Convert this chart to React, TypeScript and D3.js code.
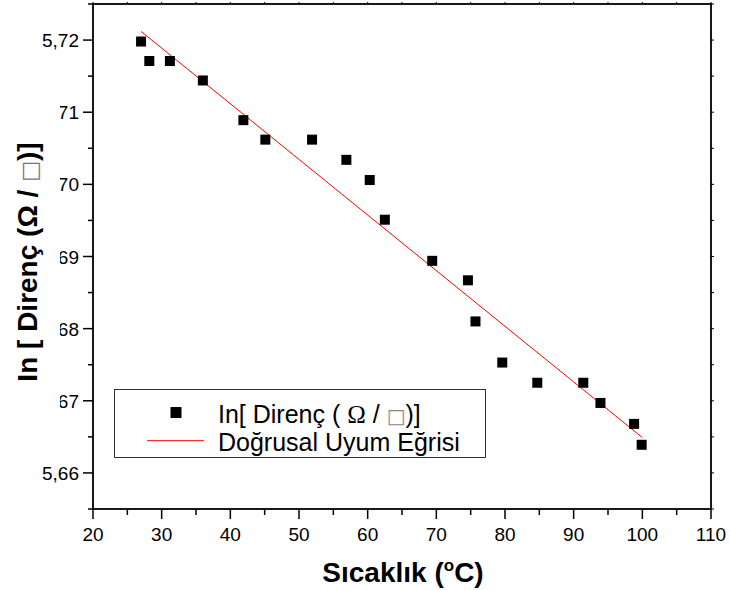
import React from "react";
import * as d3 from "d3";

// ---- data ----
const tempC = [27.0, 28.2, 31.2, 36.0, 41.9, 45.1, 51.9, 56.9, 60.3, 62.5, 69.4, 74.6, 75.7, 79.6, 84.7, 91.4, 93.9, 98.8, 99.9];
const lnR = [5.7198, 5.7171, 5.7171, 5.7144, 5.7089, 5.7062, 5.7062, 5.7034, 5.7006, 5.6951, 5.6894, 5.6867, 5.6810, 5.6753, 5.6725, 5.6725, 5.6697, 5.6668, 5.6639];
const fitX = [27.0, 100.0];
const fitY = [5.7212, 5.6649];

const xTickValues = [20, 30, 40, 50, 60, 70, 80, 90, 100, 110];
const xTickLabels = ["20", "30", "40", "50", "60", "70", "80", "90", "100", "110"];
const yTickValues = [5.66, 5.67, 5.68, 5.69, 5.70, 5.71, 5.72];
const yTickLabels = ["5,66", "5,67", "5,68", "5,69", "5,70", "5,71", "5,72"];

const xTitle = "Sıcaklık (";
const yTitleA = "In [ Direnç (Ω / ";
const legendLabels = ["In[ Direnç ( ", "Doğrusal Uyum Eğrisi"];

const W = 730;
const H = 590;
const L = 93, R = 711, T = 4, B = 509;
const FONT = "'Liberation Sans', Arial, sans-serif";

export default function App() {
  const x = d3.scaleLinear().domain([20, 110]).range([L, R]);
  const y = d3.scaleLinear().domain([5.655, 5.725]).range([B, T]);

  const xMinor = d3.range(25, 110, 10);
  const yMinor = d3.range(5.655, 5.7251, 0.01);
  const topTicks = d3.range(20, 110.1, 5);
  const rightTicks = d3.range(5.655, 5.7251, 0.005);

  const line = d3.line<number>().x((d, i) => x(fitX[i])).y((d, i) => y(fitY[i]));
  const ms = 10;

  return (
    <svg width={W} height={H} style={{ position: "absolute", left: 0, top: 0, background: "#fff" }} fontFamily={FONT}>
      <rect x={0} y={0} width={W} height={H} fill="#fff" />

      {/* fit line */}
      <path d={line(fitY) || ""} fill="none" stroke="#ff0000" strokeWidth={1} />

      {/* markers */}
      {tempC.map((t, i) => (
        <rect key={i} x={x(t) - ms / 2} y={y(lnR[i]) - ms / 2} width={ms} height={ms} fill="#000" />
      ))}

      {/* frame */}
      <rect x={L} y={T} width={R - L} height={B - T} fill="none" stroke="#000" strokeWidth={1.8} />

      {/* bottom axis ticks */}
      {xTickValues.map((v) => (
        <line key={"xt" + v} x1={x(v)} x2={x(v)} y1={B} y2={B + 10} stroke="#000" strokeWidth={1.5} />
      ))}
      {xMinor.map((v) => (
        <line key={"xm" + v} x1={x(v)} x2={x(v)} y1={B} y2={B + 6} stroke="#000" strokeWidth={1.5} />
      ))}
      {xTickValues.map((v, i) => (
        <text key={"xl" + v} x={x(v)} y={541} fontSize={19} textAnchor="middle" fill="#000">{xTickLabels[i]}</text>
      ))}

      {/* top tiny ticks */}
      {topTicks.map((v) => (
        <line key={"tt" + v} x1={x(v)} x2={x(v)} y1={T} y2={T - 2} stroke="#000" strokeWidth={1} />
      ))}
      {/* right tiny ticks */}
      {rightTicks.map((v, i) => (
        <line key={"rt" + i} x1={R} x2={R + 3} y1={y(v)} y2={y(v)} stroke="#000" strokeWidth={1} />
      ))}

      {/* left axis ticks */}
      {yTickValues.map((v) => (
        <line key={"yt" + v} x1={L - 10} x2={L} y1={y(v)} y2={y(v)} stroke="#000" strokeWidth={1.5} />
      ))}
      {yMinor.map((v, i) => (
        <line key={"ym" + i} x1={L - 5} x2={L} y1={y(v)} y2={y(v)} stroke="#000" strokeWidth={1.5} />
      ))}
      {yTickValues.map((v, i) => (
        <text key={"yl" + v} x={79} y={y(v) + 7} fontSize={19} textAnchor="end" fill="#000">{yTickLabels[i]}</text>
      ))}

      {/* y title background box (hides part of the inner tick labels as in the reference) */}
      <rect x={0} y={62} width={60} height={392} fill="#fff" />
      <text transform="translate(37,262) rotate(-90)" fontSize={28} fontWeight="bold" textAnchor="middle" fill="#000">
        {yTitleA}
        <tspan fontWeight="normal" fill="#777" fontFamily="'DejaVu Sans', sans-serif" fontSize={22}>□</tspan>
        )]
      </text>

      {/* x title */}
      <text x={403} y={582} fontSize={28} fontWeight="bold" textAnchor="middle" fill="#000">
        {xTitle}
        <tspan fontSize={17} dy={-11}>o</tspan>
        <tspan dy={11}>C)</tspan>
      </text>

      {/* legend */}
      <rect x={114.5} y={389.5} width={371} height={68} fill="#fff" stroke="#333" strokeWidth={1} />
      <rect x={176 - 5.5} y={412.5 - 5.5} width={11} height={11} fill="#000" />
      <line x1={147} x2={204} y1={440.7} y2={440.7} stroke="#ff0000" strokeWidth={1} />
      <text x={218} y={423} fontSize={25} fill="#000">
        {legendLabels[0]}
        <tspan fontFamily="'Liberation Serif', serif">Ω</tspan>
        {" / "}
        <tspan fill="#888" fontFamily="'DejaVu Sans', sans-serif" fontSize={20}>□</tspan>
        )]
      </text>
      <text x={218} y={451} fontSize={25} fill="#000">{legendLabels[1]}</text>
    </svg>
  );
}
